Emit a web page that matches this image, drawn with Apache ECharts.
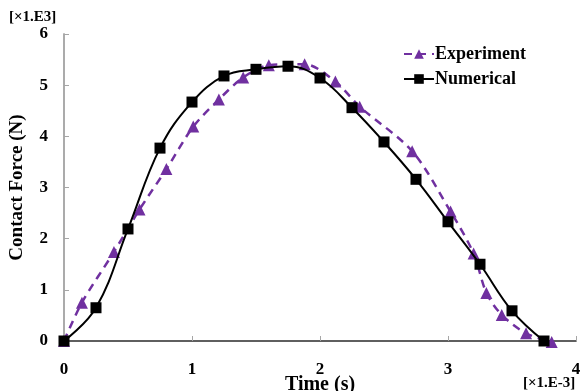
<!DOCTYPE html>
<html>
<head>
<meta charset="utf-8">
<script src="https://cdn.jsdelivr.net/npm/echarts@6/dist/echarts.min.js"></script>
<style>
html,body{margin:0;padding:0;background:#fff;}
#chart{width:580px;height:391px;}
</style>
</head>
<body>
<div id="chart"></div>
<script>
// Time in units of 1e-3 s, force in units of 1e3 N
var expTime  = [0, 0.14, 0.39, 0.59, 0.80, 1.01, 1.21, 1.40, 1.60, 1.88, 2.12, 2.31, 2.72, 3.02, 3.20, 3.30, 3.42, 3.61, 3.81];
var expForce = [0, 0.75, 1.74, 2.57, 3.36, 4.19, 4.72, 5.15, 5.39, 5.41, 5.07, 4.58, 3.71, 2.53, 1.71, 0.94, 0.51, 0.15, -0.02];
var numTime  = [0, 0.25, 0.5, 0.75, 1.0, 1.25, 1.5, 1.75, 2.0, 2.25, 2.5, 2.75, 3.0, 3.25, 3.5, 3.75];
var numForce = [0, 0.65, 2.19, 3.77, 4.67, 5.18, 5.31, 5.37, 5.14, 4.56, 3.89, 3.16, 2.33, 1.50, 0.59, 0];
var xTicks = [0, 1, 2, 3, 4];
var yTicks = [0, 1, 2, 3, 4, 5, 6];

function pairs(a, b){ return a.map(function(v,i){ return [v, b[i]]; }); }

var serif = '"Liberation Serif","DejaVu Serif",serif';
var chart = echarts.init(document.getElementById('chart'));
chart.setOption({
  animation: false,
  backgroundColor: '#fff',
  grid: {left: 64, top: 34, right: 4, bottom: 50, containLabel: false, outerBoundsMode: 'none'},
  legend: {
    orient: 'vertical', left: 398, top: 40, itemWidth: 30, itemHeight: 12, itemGap: 7,
    textStyle: {fontFamily: serif, fontWeight: 'bold', fontSize: 18, color: '#000', padding: [0,0,0,-4]},
    data: ['Experiment', 'Numerical']
  },
  xAxis: [{
    type: 'value', min: 0, max: 4, interval: 1,
    name: 'Time (s)', nameLocation: 'middle', nameGap: 34, nameMoveOverlap: false,
    nameTextStyle: {fontFamily: serif, fontWeight: 'bold', fontSize: 20, color: '#000'},
    axisLine: {show: true, lineStyle: {color: '#a6a6a6', width: 1.5}},
    axisTick: {show: true, inside: true, length: 5, lineStyle: {color: '#a6a6a6'}},
    axisLabel: {fontFamily: serif, fontWeight: 'bold', fontSize: 17, color: '#000', margin: 20,
      formatter: function(v){ return xTicks.indexOf(v) >= 0 ? String(v) : ''; }},
    splitLine: {show: false}
  }, {
    type: 'value', min: 0, max: 4, position: 'top',
    axisLine: {show: true, lineStyle: {color: '#404040', width: 1.5}},
    axisTick: {show: false}, axisLabel: {show: false}, splitLine: {show: false}
  }],
  yAxis: [{
    type: 'value', min: 0, max: 6, interval: 1,
    name: 'Contact Force (N)', nameLocation: 'middle', nameGap: 37, nameRotate: 90, nameMoveOverlap: false,
    nameTextStyle: {fontFamily: serif, fontWeight: 'bold', fontSize: 19, color: '#000'},
    axisLine: {show: true, lineStyle: {color: '#a6a6a6', width: 1.5}},
    axisTick: {show: true, inside: true, length: 5, lineStyle: {color: '#a6a6a6'}},
    axisLabel: {fontFamily: serif, fontWeight: 'bold', fontSize: 17, color: '#000', margin: 16,
      formatter: function(v){ return yTicks.indexOf(v) >= 0 ? String(v) : ''; }},
    splitLine: {show: false}
  }, {
    type: 'value', min: 0, max: 6, position: 'right',
    axisLine: {show: true, lineStyle: {color: '#a6a6a6', width: 1.5}},
    axisTick: {show: false}, axisLabel: {show: false}, splitLine: {show: false}
  }],
  graphic: [
    {type: 'text', left: 9, top: 10, style: {text: '[×1.E3]', font: 'bold 15px ' + serif, fill: '#000'}},
    {type: 'text', left: 523, top: 376, style: {text: '[×1.E-3]', font: 'bold 15px ' + serif, fill: '#000'}}
  ],
  series: [{
    name: 'Experiment', type: 'line', data: pairs(expTime, expForce), smooth: 0.3,
    symbol: 'triangle', symbolSize: 12, clip: false,
    lineStyle: {color: '#7030a0', width: 2.5, type: [8, 6]},
    itemStyle: {color: '#7030a0'}, z: 2
  }, {
    name: 'Numerical', type: 'line', data: pairs(numTime, numForce), smooth: 0.4,
    symbol: 'rect', symbolSize: 11, clip: false,
    lineStyle: {color: '#000', width: 2},
    itemStyle: {color: '#000'}, z: 3
  }]
});
</script>
</body>
</html>
